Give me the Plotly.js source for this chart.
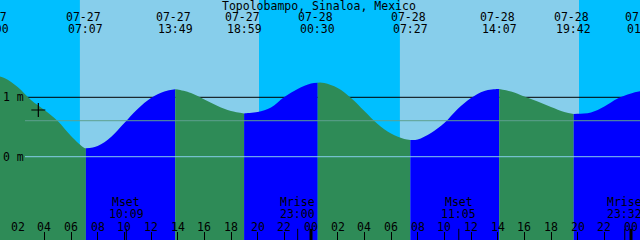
<!DOCTYPE html>
<html>
<head>
<meta charset="utf-8">
<script src="https://cdn.plot.ly/plotly-3.0.1.min.js"></script>
<style>
html,body{margin:0;padding:0;background:#00BFFF;}
#chart{width:640px;height:240px;}
</style>
</head>
<body>
<div id="chart"></div>
<script>
// ---------------- DATA ----------------
const stationTitle = 'Topolobampo, Sinaloa, Mexico';

// tide events (high / low)
const eventDate  = ['07-27','07-27','07-27','07-27','07-28','07-28','07-28','07-28','07-29'];
const eventClock = ['00:00','07:07','13:49','18:59','00:30','07:27','14:07','19:42','01:00'];
const eventType  = ['H','L','H','L','H','L','H','L','H'];
const eventLevel = [1.375, 0.141, 1.135, 0.727, 1.246, 0.281, 1.140, 0.719, 1.114];

// tide level read hourly (hours after 07-27 00:00), metres
const sampleHour  = [1,2,3,4,5,6,7, 8,9,10,11,12,13, 14,15,16,17,18,
                     19,20,21,22,23,24, 25,26,27,28,29,30,31,
                     32,33,34,35,36,37,38, 39,40,41,42,43, 44,45,46,47,48];
const sampleLevel = [1.325,1.173,0.955,0.786,0.601,0.348,0.146,
                     0.180,0.332,0.567,0.803,0.988,1.098,
                     1.131,1.072,0.963,0.854,0.769,
                     0.729,0.753,0.828,1.005,1.140,1.232,
                     1.241,1.157,0.988,0.769,0.551,0.391,0.298,
                     0.290,0.399,0.567,0.803,0.988,1.106,1.138,
                     1.098,1.013,0.929,0.837,0.753,
                     0.722,0.744,0.845,0.980,1.064];

// hour tick labels (every 2 h)
const tickHour  = [2,4,6,8,10,12,14,16,18,20,22,24,26,28,30,32,34,36,38,40,42,44,46,48];
const tickLabel = ['02','04','06','08','10','12','14','16','18','20','22','00',
                   '02','04','06','08','10','12','14','16','18','20','22','00'];

// sun
const sunriseDate = ['07-27','07-28'];
const sunriseClock = ['06:40','06:40'];
const sunsetDate = ['07-27','07-28'];
const sunsetClock = ['20:06','20:06'];

// moon
const moonName  = ['Mset','Mrise','Mset','Mrise'];
const moonDate  = ['07-27','07-27','07-28','07-28'];
const moonClock = ['10:09','23:00','11:05','23:32'];

// midnight markers
const midnightDate = ['07-28','07-29'];

// reference levels (m)
const datumLevel = 0;
const mslLevel = 0.606;
const oneMetre = 1;
const plusMark = {date:'07-27', clock:'03:33', level:0.786};

// view window
const viewStart = {date:'07-27', clock:'00:40'};
const viewHours = 48;
const levelRange = [-1.402, 2.638];

// ---------------- HELPERS ----------------
const BASE = Date.UTC(2024, 6, 27, 0, 0, 0);
function hoursOf(date, clock){
  const d = parseInt(date.slice(3), 10) - 27;
  const hh = parseInt(clock.slice(0,2),10), mm = parseInt(clock.slice(3),10);
  return d*24 + hh + mm/60;
}
const ms = h => BASE + h*3600000;

const C = {night:'#00BFFF', day:'#87CEEB', rise:'#0000FF', fall:'#2E8B57',
           msl:'#5FA08E', datum:'#87CEEB', ink:'#000000'};
const FONT = 'DejaVu Sans Mono, monospace';
const FS = 11.5;

const evH = eventDate.map((d,i)=>hoursOf(d, eventClock[i]));
const x0h = hoursOf(viewStart.date, viewStart.clock) + 0.5/60;
const xRange = [ms(x0h), ms(x0h + viewHours)];
const paperX = h => (ms(h) - xRange[0]) / (xRange[1] - xRange[0]);

// ---------------- TRACES ----------------
const traces = [];
for (let i = 0; i < evH.length - 1; i++){
  const xs = [evH[i]], ys = [eventLevel[i]];
  sampleHour.forEach((h,k)=>{ if (h > evH[i] && h < evH[i+1]) { xs.push(h); ys.push(sampleLevel[k]); } });
  xs.push(evH[i+1]); ys.push(eventLevel[i+1]);
  traces.push({x:[ms(evH[i]), ms(evH[i+1])], y:[levelRange[0], levelRange[0]],
    mode:'lines', line:{width:0}, hoverinfo:'skip', showlegend:false});
  const col = eventType[i] === 'L' ? C.rise : C.fall;
  traces.push({x:xs.map(ms), y:ys, mode:'lines', line:{width:0, shape:'spline', smoothing:1},
    fill:'tonexty', fillcolor:col, hoverinfo:'skip', showlegend:false});
}
// moon event ticks
traces.push({x:moonDate.map((d,i)=>ms(hoursOf(d, moonClock[i]))),
  y:moonDate.map(()=>levelRange[0]), mode:'markers',
  marker:{symbol:'line-ns', size:16, line:{width:1, color:C.ink}}, hoverinfo:'skip', showlegend:false});
// midnight ticks
traces.push({x:midnightDate.map(d=>ms(hoursOf(d,'00:00'))),
  y:midnightDate.map(()=>levelRange[0]), mode:'markers',
  marker:{symbol:'line-ns', size:16, line:{width:3, color:C.ink}}, hoverinfo:'skip', showlegend:false});
// plus mark
traces.push({x:[ms(hoursOf(plusMark.date, plusMark.clock))], y:[plusMark.level], mode:'markers',
  marker:{symbol:'cross-thin', size:10, line:{width:1.2, color:C.ink}}, hoverinfo:'skip', showlegend:false});

// ---------------- SHAPES ----------------
const shapes = [];
sunriseDate.forEach((d,i)=>{
  shapes.push({type:'rect', layer:'below', xref:'x', yref:'paper',
    x0:ms(hoursOf(d, sunriseClock[i])), x1:ms(hoursOf(sunsetDate[i], sunsetClock[i])),
    y0:0, y1:1, fillcolor:C.day, line:{width:0}});
});
shapes.push({type:'line', layer:'below', xref:'paper', yref:'y', x0:25/640, x1:1,
  y0:oneMetre, y1:oneMetre, line:{color:C.ink, width:1}});
shapes.push({type:'line', layer:'above', xref:'paper', yref:'y', x0:25/640, x1:1,
  y0:mslLevel, y1:mslLevel, line:{color:C.msl, width:1}});
shapes.push({type:'line', layer:'above', xref:'paper', yref:'y', x0:25/640, x1:1,
  y0:datumLevel, y1:datumLevel, line:{color:C.datum, width:1}});

// ---------------- ANNOTATIONS ----------------
const py = p => 1 - p/240;
const ann = [];
const txt = (xp, y, text, xshift) => ({x:xp, xref:'paper', y:py(y), yref:'paper', text, showarrow:false,
  xanchor:'center', yanchor:'middle', xshift:xshift||0, font:{family:FONT, size:FS, color:C.ink}});
ann.push(txt(0.4984, 6, stationTitle));
evH.forEach((h,i)=>{
  ann.push(txt(paperX(h), 17, eventDate[i], -2));
  ann.push(txt(paperX(h), 29, eventClock[i]));
});
moonName.forEach((n,i)=>{
  const h = hoursOf(moonDate[i], moonClock[i]);
  ann.push(txt(paperX(h), 201.5, n));
  ann.push(txt(paperX(h), 213.5, moonClock[i]));
});
tickHour.forEach((h,i)=>{
  ann.push(txt(paperX(h), 226.5, tickLabel[i]));
});

// ---------------- LAYOUT ----------------
const layout = {
  width:640, height:240, margin:{l:0,r:0,t:0,b:0,pad:0},
  paper_bgcolor:C.night, plot_bgcolor:C.night, showlegend:false,
  xaxis:{type:'date', range:xRange, showgrid:false, zeroline:false, showline:false,
    tick0:ms(0), dtick:7200000, ticks:'inside', ticklen:8, tickwidth:1,
    tickcolor:C.ink, showticklabels:false, fixedrange:true},
  yaxis:{range:levelRange, showgrid:false, zeroline:false, showline:false, ticks:'',
    tickvals:[datumLevel, oneMetre], ticktext:['0 m','1 m'], ticklabelposition:'inside',
    tickfont:{family:FONT, size:FS, color:C.ink}, fixedrange:true},
  shapes, annotations:ann
};
Plotly.newPlot('chart', traces, layout, {staticPlot:true, displayModeBar:false});
</script>
</body>
</html>
